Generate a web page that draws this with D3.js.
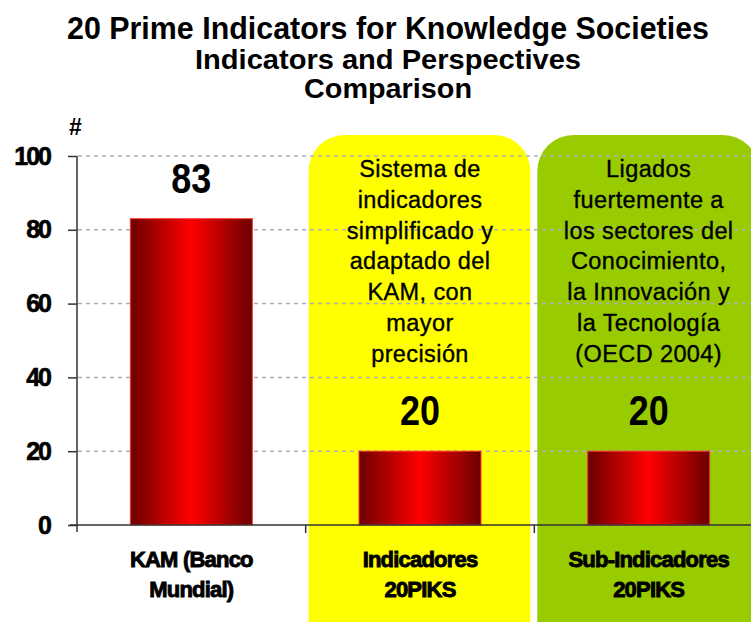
<!DOCTYPE html>
<html>
<head>
<meta charset="utf-8">
<title>20 Prime Indicators</title>
<script src="https://cdn.jsdelivr.net/npm/d3@7"></script>
<style>
  body { margin: 0; background: #fff; }
  svg { display: block; }
</style>
</head>
<body>
<script>
// chart data
var categories = ["KAM (Banco|Mundial)", "Indicadores|20PIKS", "Sub-Indicadores|20PIKS"];
var values = [83, 20, 20];
var notes = [
  null,
  ["Sistema de", "indicadores", "simplificado y", "adaptado del", "KAM, con", "mayor", "precisión"],
  ["Ligados", "fuertemente a", "los sectores del", "Conocimiento,", "la Innovación y", "la Tecnología", "(OECD 2004)"]
];
var noteColors = [null, "#ffff00", "#99cc00"];
var yTicks = [0, 20, 40, 60, 80, 100];
var titleLines = ["20 Prime Indicators for Knowledge Societies", "Indicators and Perspectives", "Comparison"];
var titleWidths = [642, 386, 168];

var width = 751, height = 622;
var sans = "'Liberation Sans', Arial, sans-serif";

var svg = d3.select("body").append("svg")
    .attr("width", width).attr("height", height);

var x = d3.scaleBand().domain(categories).range([77, 763]);
var y = d3.scaleLinear().domain([0, 100]).range([525, 156]);
var barW = 122;

// gradient for bars
var grad = svg.append("defs").append("linearGradient")
    .attr("id", "barGrad").attr("x1", "0%").attr("x2", "100%");
grad.append("stop").attr("offset", "0%").attr("stop-color", "#6a0000");
grad.append("stop").attr("offset", "50%").attr("stop-color", "#ff0000");
grad.append("stop").attr("offset", "100%").attr("stop-color", "#6a0000");

// title (condensed look)
svg.append("g").selectAll("text").data(titleLines).enter().append("text")
    .attr("x", 388).attr("y", function (d, i) { return 39 + i * 29.5; })
    .attr("text-anchor", "middle")
    .attr("textLength", function (d, i) { return titleWidths[i]; })
    .attr("lengthAdjust", "spacingAndGlyphs")
    .style("font-family", sans).style("font-weight", "bold")
    .style("font-size", function (d, i) { return i == 0 ? "31px" : "28px"; })
    .text(function (d) { return d; });

// coloured note boxes
var boxes = svg.append("g");
categories.forEach(function (c, i) {
  if (!notes[i]) return;
  boxes.append("rect")
      .attr("x", x(c) + 3).attr("y", 135)
      .attr("width", x.bandwidth() - 7).attr("height", 540)
      .attr("rx", 36).attr("ry", 36)
      .attr("fill", noteColors[i]);
});

// grid lines
svg.append("g").selectAll("line").data(yTicks.slice(1)).enter().append("line")
    .attr("x1", 78).attr("x2", width)
    .attr("y1", function (d) { return y(d); }).attr("y2", function (d) { return y(d); })
    .attr("stroke", "#b0b0b0").attr("stroke-width", 1.5)
    .attr("stroke-dasharray", "4,4");

// note texts
categories.forEach(function (c, i) {
  if (!notes[i]) return;
  svg.append("g").selectAll("text").data(notes[i]).enter().append("text")
      .attr("x", x(c) + x.bandwidth() / 2)
      .attr("y", function (d, j) { return 177 + j * 30.8; })
      .attr("text-anchor", "middle")
      .style("font-family", sans).style("font-size", "23.5px")
      .style("letter-spacing", "0.4px")
      .attr("stroke", "#000").attr("stroke-width", 0.35)
      .text(function (d) { return d; });
});

// bars
svg.append("g").selectAll("rect").data(values).enter().append("rect")
    .attr("x", function (d, i) { return x(categories[i]) + (x.bandwidth() - barW) / 2; })
    .attr("y", function (d) { return y(d); })
    .attr("width", barW)
    .attr("height", function (d) { return y(0) - y(d); })
    .attr("fill", "url(#barGrad)")
    .attr("stroke", "#ff3030").attr("stroke-width", 1);

// value labels
svg.append("g").selectAll("text").data(values).enter().append("text")
    .attr("x", function (d, i) { return x(categories[i]) + x.bandwidth() / 2; })
    .attr("y", function (d) { return y(d) - 26; })
    .attr("text-anchor", "middle")
    .attr("textLength", 40).attr("lengthAdjust", "spacingAndGlyphs")
    .style("font-family", sans).style("font-weight", "bold").style("font-size", "43px")
    .text(function (d) { return d; });

// y axis
var yAxis = svg.append("g").attr("transform", "translate(77,0)")
    .call(d3.axisLeft(y).tickValues(yTicks).tickSize(9).tickPadding(18));
yAxis.select(".domain").attr("stroke", "#333").attr("stroke-width", 1.5)
    .attr("d", "M0,156V532");
yAxis.selectAll(".tick line").attr("stroke", "#333").attr("stroke-width", 1.5);
yAxis.selectAll(".tick text")
    .style("font-family", sans).style("font-weight", "bold").style("font-size", "25px")
    .style("letter-spacing", "-2px").attr("fill", "#000")
    .attr("stroke", "#000").attr("stroke-width", 0.6);

svg.append("text").attr("x", 69).attr("y", 135)
    .style("font-family", sans).style("font-weight", "bold").style("font-size", "23px")
    .text("#");

// x axis
var xAxis = svg.append("g");
xAxis.append("line").attr("x1", 70).attr("x2", width).attr("y1", 525).attr("y2", 525)
    .attr("stroke", "#333").attr("stroke-width", 1.5);
xAxis.selectAll("line.tk").data(categories.slice(1)).enter().append("line")
    .attr("class", "tk")
    .attr("x1", function (d) { return x(d); }).attr("x2", function (d) { return x(d); })
    .attr("y1", 525).attr("y2", 533)
    .attr("stroke", "#333").attr("stroke-width", 1.5);

categories.forEach(function (c) {
  xAxis.append("g").selectAll("text").data(c.split("|")).enter().append("text")
      .attr("x", x(c) + x.bandwidth() / 2)
      .attr("y", function (d, j) { return 567 + j * 30; })
      .attr("text-anchor", "middle")
      .style("font-family", sans).style("font-weight", "bold").style("font-size", "22px")
      .style("letter-spacing", "-0.8px")
      .attr("stroke", "#000").attr("stroke-width", 0.9)
      .text(function (d) { return d; });
});
</script>
</body>
</html>
